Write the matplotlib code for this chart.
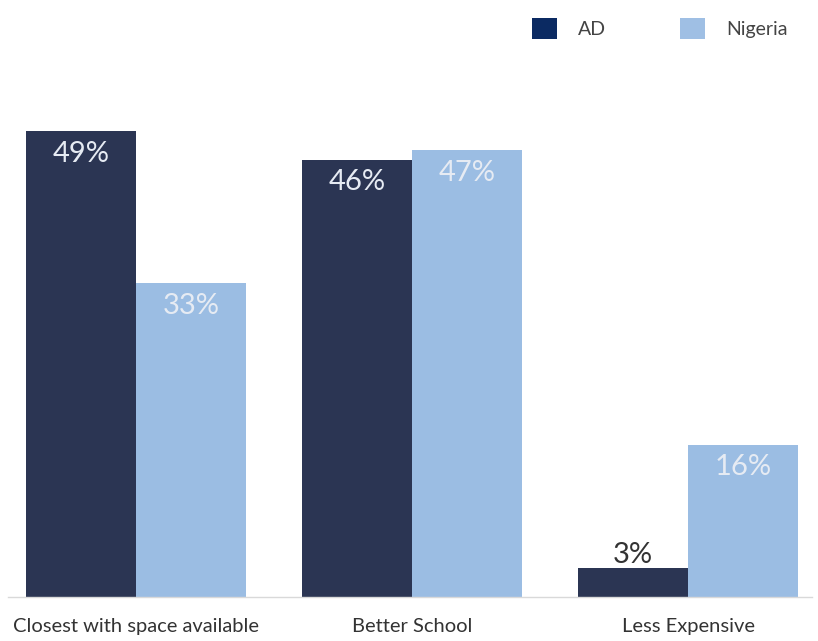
import numpy as np
import matplotlib.pyplot as plt
from matplotlib.patches import Patch

plt.rcParams["font.family"] = ["Lato", "DejaVu Sans"]

categories = ["Closest with space available", "Better School", "Less Expensive"]
series_names = ["AD", "Nigeria"]
ad_values = [49, 46, 3]
nigeria_values = [33, 47, 16]

bar_colors = ["#2b3553", "#9bbde3"]
legend_colors = ["#0b2a62", "#9fbfe4"]

fig = plt.figure(figsize=(8.18, 6.41), dpi=100)
ax = fig.add_axes([8 / 818, 1 - 597 / 641, 804 / 818, 497 / 641])

x = np.arange(len(categories))
w = 0.4
bars_ad = ax.bar(x - w / 2, ad_values, w, color=bar_colors[0])
bars_ng = ax.bar(x + w / 2, nigeria_values, w, color=bar_colors[1])

for bars, vals in [(bars_ad, ad_values), (bars_ng, nigeria_values)]:
    for b, v in zip(bars, vals):
        cx = b.get_x() + b.get_width() / 2
        if v >= 10:
            ax.text(cx, v - 1.0, f"{v}%", ha="center", va="top",
                    fontsize=21, color="#e6ebf3")
        else:
            ax.text(cx, v + 0.1, f"{v}%", ha="center", va="bottom",
                    fontsize=21, color="#333333")

ax.set_xlim(-0.464, 2.449)
ax.set_ylim(0, 52.3)
ax.set_xticks(x)
ax.set_xticklabels(categories, fontsize=14.5, color="#333333")
ax.tick_params(axis="x", length=0, pad=15)
ax.set_yticks([])
for s in ["top", "right", "left"]:
    ax.spines[s].set_visible(False)
ax.spines["bottom"].set_color("#d9d9d9")
ax.spines["bottom"].set_linewidth(1)

handles = [Patch(facecolor=c, edgecolor="none", label=n)
           for c, n in zip(legend_colors, series_names)]
fig.legend(handles=handles, loc="upper right", bbox_to_anchor=(0.985, 1.0),
           ncol=2, frameon=False, fontsize=14, handlelength=1.3,
           handleheight=1.3, handletextpad=1.1, columnspacing=3.8,
           labelcolor="#444444")

fig.savefig("out.png", dpi=100)
